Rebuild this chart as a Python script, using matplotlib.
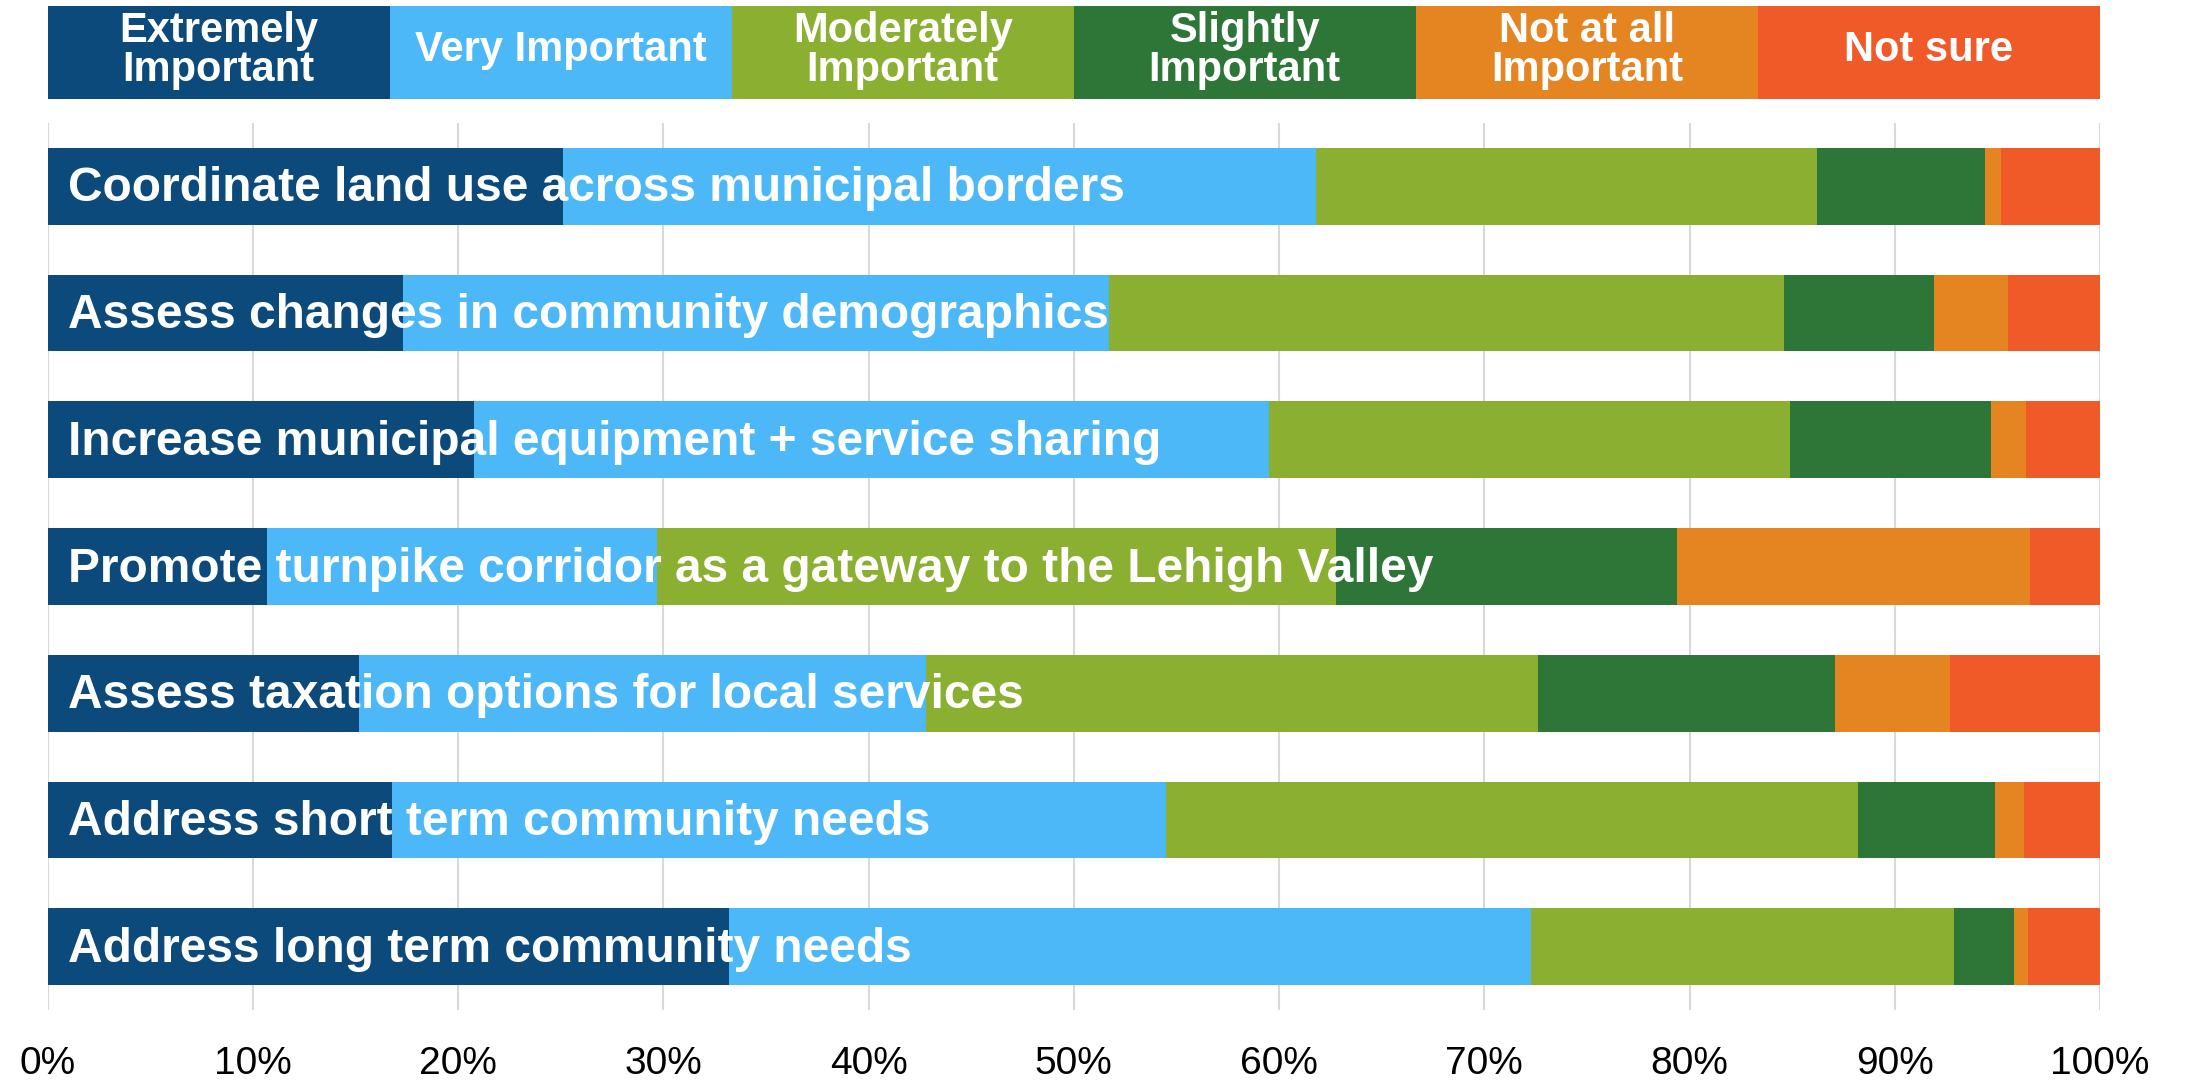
import matplotlib as mpl
import matplotlib.pyplot as plt
import numpy as np

mpl.rcParams["font.family"] = ["Liberation Sans", "DejaVu Sans"]

# survey items, top to bottom
items = [
    "Coordinate land use across municipal borders",
    "Assess changes in community demographics",
    "Increase municipal equipment + service sharing",
    "Promote turnpike corridor as a gateway to the Lehigh Valley",
    "Assess taxation options for local services",
    "Address short term community needs",
    "Address long term community needs",
]

categories = ["Extremely\nImportant", "Very Important", "Moderately\nImportant",
              "Slightly\nImportant", "Not at all\nImportant", "Not sure"]

# percent of responses per category (same order as items)
extremely = [25.1, 17.3, 20.8, 10.7, 15.2, 16.8, 33.2]
very = [36.7, 34.4, 38.7, 19.0, 27.6, 37.7, 39.1]
moderately = [24.4, 32.9, 25.4, 33.1, 29.8, 33.7, 20.6]
slightly = [8.2, 7.3, 9.8, 16.6, 14.5, 6.7, 2.9]
not_at_all = [0.8, 3.6, 1.7, 17.2, 5.6, 1.4, 0.7]
not_sure = [4.8, 4.5, 3.6, 3.4, 7.3, 3.7, 3.5]

colors = ["#0B4A7B", "#4DB8F7", "#8AAF31", "#2E7638", "#E48522", "#F05A28"]

W, H = 2192, 1092
fig = plt.figure(figsize=(W / 100, H / 100), dpi=100)

x0, x1 = 47.5 / W, 2100 / W
ax = fig.add_axes([x0, 1 - 1010 / H, x1 - x0, (1010 - 123) / H])

series = [extremely, very, moderately, slightly, not_at_all, not_sure]
y = np.arange(len(items))
left = np.zeros(len(items))
for vals, c in zip(series, colors):
    vals = np.array(vals)
    ax.barh(y, vals, left=left, height=0.605, color=c, linewidth=0)
    left += vals

for i, label in enumerate(items):
    ax.text(1.0, i + 0.02, label, color="white", fontsize=34.5, fontweight="bold",
            va="center", ha="left")

ax.set_xlim(0, 100)
ax.set_ylim(len(items) - 0.5, -0.5)
ax.set_xticks(np.arange(0, 101, 10))
ax.set_xticklabels([f"{t}%" for t in range(0, 101, 10)], fontsize=28)
ax.set_yticks([])
ax.tick_params(axis="x", length=0, pad=26)
ax.grid(axis="x", color="#D9D9D9", linewidth=1.5)
ax.set_axisbelow(True)
for s in ax.spines.values():
    s.set_visible(False)

# legend strip on top
lax = fig.add_axes([x0, 1 - 99 / H, x1 - x0, (99 - 5.6) / H])
lax.barh([0] * len(categories), [1] * len(categories), left=np.arange(len(categories)),
         height=1, color=colors, linewidth=0)
for i, cat in enumerate(categories):
    lax.text(i + 0.5, 0.02, cat, color="white", fontsize=30, fontweight="bold",
             ha="center", va="center", linespacing=0.95)
lax.set_xlim(0, len(categories))
lax.set_ylim(-0.5, 0.5)
lax.axis("off")

fig.savefig("out.png", dpi=100)
